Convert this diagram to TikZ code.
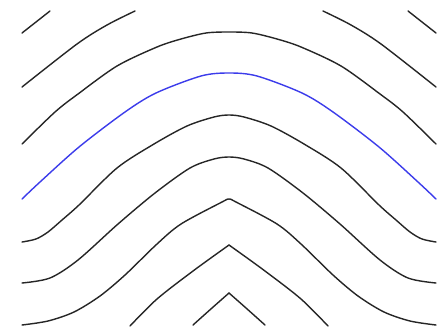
\documentclass[tikz,border=0pt]{standalone}
\usetikzlibrary{positioning}

\definecolor{levelblue}{RGB}{60,60,235}

\begin{document}
\begin{tikzpicture}[x=1pt,y=-1pt,
    contour/.style={line width=1.4pt, black!85, line cap=round},
    bluecontour/.style={contour, levelblue}]
        \useasboundingbox[fill=white] (0,0) rectangle (438,335);

         %% above the blue one
         \draw[contour] plot[smooth] coordinates {(22,33) (36,22) (50,11)};
         \draw[contour] plot[smooth] coordinates {(436,33) (422,22) (408,11)};

         \draw[contour] plot[smooth] coordinates {(22,87) (77,44) (107,25) (135,11)};
         \draw[contour] plot[smooth] coordinates {(436,87) (381,44) (351,25) (323,11)};

         \draw[contour] plot[smooth] coordinates {(22,144) (55,112) (78,94) (117,66) (157,47) (181,39) (206,33) (229,32) (252,33) (277,39) (301,47) (341,66) (380,94) (403,112) (436,144)};

         % the blue one
         \draw[bluecontour] plot[smooth] coordinates {(22,199) (40,182) (79,147) (125,112) (156,93) (201,76) (229,73) (257,76) (302,93) (333,112) (379,147) (418,182) (436,199)};

         %% below
         \draw[contour] plot[smooth] coordinates {(22,242) (36,239) (48,232) (62,220) (79,205) (117,168) (154,144) (187,126) (214,117) (229,115) (244,117) (271,126) (304,144) (341,168) (379,205) (396,220) (410,232) (422,239) (436,242)};

         \draw[contour] plot[smooth] coordinates {(22,283) (50,278) (78,260) (118,224) (155,193) (190,168) (214,159) (229,157) (244,159) (268,168) (303,193) (340,224) (380,260) (408,278) (436,283)};

         \draw[contour] plot[smooth] coordinates {(22,325) (48,321) (74,312) (100,296) (125,275) (157,244) (181,224) (222,202) (229,199) (236,202) (277,224) (301,244) (333,275) (358,296) (384,312) (410,321) (436,325)};

         \draw[contour] plot[smooth] coordinates {(130,326) (157,299) (193,271) (229,245)};
         \draw[contour] plot[smooth] coordinates {(328,326) (301,299) (265,271) (229,245)};

         \draw[contour] plot[smooth] coordinates {(193,325) (212,308) (229,293)};
         \draw[contour] plot[smooth] coordinates {(265,325) (246,308) (229,293)};

    \end{tikzpicture}
\end{document}
